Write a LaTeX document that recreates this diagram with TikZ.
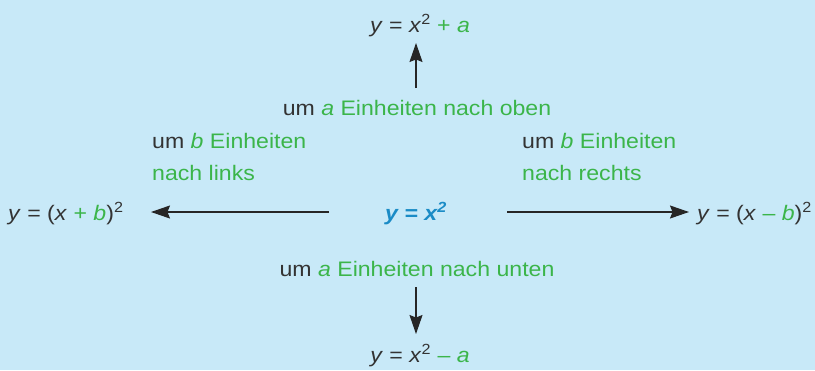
\documentclass[tikz,border=0pt]{standalone}
\usepackage{fontspec}
\setmainfont{Liberation Sans}[FakeStretch=1.1]
\usetikzlibrary{arrows.meta}
\definecolor{bg}{HTML}{C8E9F8}
\definecolor{grn}{HTML}{3BB54A}
\definecolor{blu}{HTML}{1A8BC6}
\definecolor{txt}{HTML}{333333}
\tikzset{
  lbl/.style={inner sep=0pt, font=\fontsize{21}{25}\selectfont, text=txt},
  arr/.style={line width=1.2pt, draw=black!85, -{Stealth[length=19pt,width=13pt,inset=2.5pt]}},
}
\newcommand{\vi}[1]{\textit{#1}}
\begin{document}
\begin{tikzpicture}[x=1pt,y=-1pt]
\fill[bg] (0,0) rectangle (815,370);
\useasboundingbox (0,0) rectangle (815,370);
% formulas
\node[lbl, anchor=base] (top) at (420,32) {\vi{y} = \vi{x}\textsuperscript{2} \textcolor{grn}{+ \vi{a}}};
\node[lbl, anchor=base] (bot) at (420,362) {\vi{y} = \vi{x}\textsuperscript{2} \textcolor{grn}{– \vi{a}}};
\node[lbl, anchor=base west] (left) at (8,220) {\vi{y} = (\vi{x} \textcolor{grn}{+ \vi{b}})\textsuperscript{2}};
\node[lbl, anchor=base east] (right) at (812,220) {\vi{y} = (\vi{x} \textcolor{grn}{– \vi{b}})\textsuperscript{2}};
\node[lbl, anchor=base, text=blu, font=\fontsize{21}{25}\selectfont\bfseries\itshape] (ctr) at (416,220) {y = x\textsuperscript{2}};
% labels
\node[lbl, anchor=base] (lup) at (417,115) {um \textcolor{grn}{\vi{a} Einheiten nach oben}};
\node[lbl, anchor=base] (ldn) at (417,276) {um \textcolor{grn}{\vi{a} Einheiten nach unten}};
\node[lbl, anchor=base west, align=left] (lleft) at (152,180) {um \textcolor{grn}{\vi{b} Einheiten}\\[7pt]\textcolor{grn}{nach links}};
\node[lbl, anchor=base west, align=left] (lright) at (522,180) {um \textcolor{grn}{\vi{b} Einheiten}\\[7pt]\textcolor{grn}{nach rechts}};
% arrows
\coordinate (u0) at (416,88);
\coordinate (u1) at (416,43);
\coordinate (d0) at (416,287);
\coordinate (d1) at (416,334);
\coordinate (l0) at (329,212);
\coordinate (l1) at (151,212);
\coordinate (r0) at (507,212);
\coordinate (r1) at (689,212);
\draw[arr] (u0) -- (u1);
\draw[arr] (d0) -- (d1);
\draw[arr] (l0) -- (l1);
\draw[arr] (r0) -- (r1);
\end{tikzpicture}
\end{document}
